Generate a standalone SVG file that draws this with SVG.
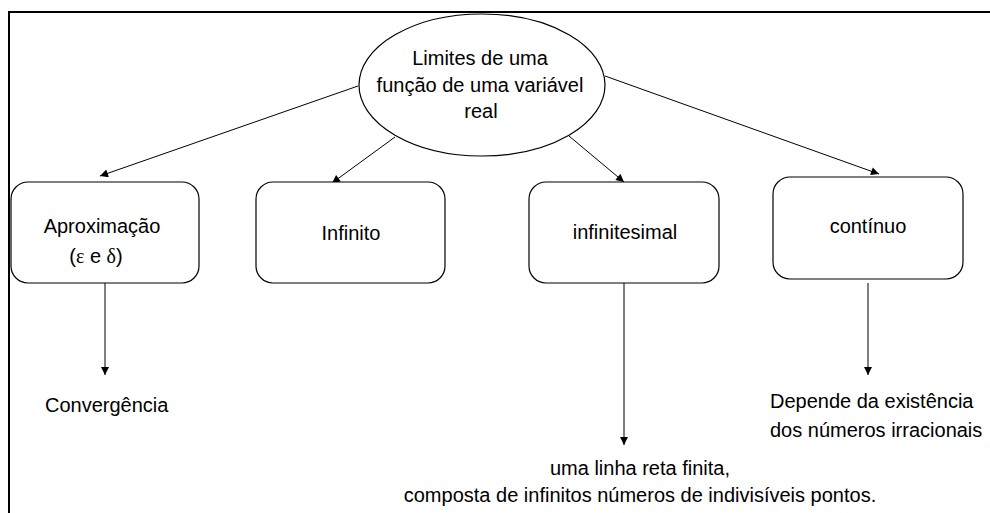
<svg xmlns="http://www.w3.org/2000/svg" width="990" height="513" viewBox="0 0 990 513">
<style>
text{font-family:"Liberation Sans",Arial,sans-serif;font-size:20px;fill:#000}
.node{fill:#fff;stroke:#000;stroke-width:1.2}
.conn{stroke:#000;stroke-width:1;fill:none;marker-end:url(#ah)}
.frame{stroke:#000;stroke-width:2;fill:none}
.sym{font-family:"Liberation Serif","Times New Roman",serif}
</style>
<defs>
<marker id="ah" viewBox="0 0 10 10" refX="10" refY="5" markerWidth="9" markerHeight="8" markerUnits="userSpaceOnUse" orient="auto">
<path d="M0,0 L10,5 L0,10 z" fill="#000"/>
</marker>
</defs>
<rect width="990" height="513" fill="#fff"/>
<path class="frame" d="M9,513 V12 H990"/>
<g id="connectors">
<line class="conn" x1="358" y1="86" x2="100" y2="176"/>
<line class="conn" x1="395" y1="137" x2="332" y2="183"/>
<line class="conn" x1="569" y1="136" x2="624" y2="182"/>
<line class="conn" x1="605" y1="76" x2="879" y2="174"/>
<line class="conn" x1="105" y1="283" x2="105" y2="375"/>
<line class="conn" x1="624" y1="283" x2="624" y2="445"/>
<line class="conn" x1="868" y1="283" x2="868" y2="375"/>
</g>
<g id="root">
<ellipse class="node" cx="482" cy="85" rx="123" ry="71"/>
<text x="480" y="65" text-anchor="middle">Limites de uma</text>
<text x="480" y="92" text-anchor="middle">função de uma variável</text>
<text x="481" y="118" text-anchor="middle">real</text>
</g>
<g id="aproximacao">
<rect class="node" x="11" y="182" width="188" height="101" rx="17"/>
<text x="102" y="233" text-anchor="middle">Aproximação</text>
<text x="96" y="263" text-anchor="middle">(<tspan class="sym">ε</tspan> e <tspan class="sym">δ</tspan>)</text>
</g>
<g id="infinito">
<rect class="node" x="256" y="182" width="189" height="101" rx="17"/>
<text x="351" y="240" text-anchor="middle">Infinito</text>
</g>
<g id="infinitesimal">
<rect class="node" x="529" y="182" width="190" height="101" rx="17"/>
<text x="625" y="239" text-anchor="middle">infinitesimal</text>
</g>
<g id="continuo">
<rect class="node" x="773" y="177" width="190" height="102" rx="17"/>
<text x="868" y="233" text-anchor="middle">contínuo</text>
</g>
<g id="convergencia">
<text x="45" y="412">Convergência</text>
</g>
<g id="depende">
<text x="770" y="408">Depende da existência</text>
<text x="770" y="437">dos números irracionais</text>
</g>
<g id="linha">
<text x="640" y="475" text-anchor="middle">uma linha reta finita,</text>
<text x="640" y="502" text-anchor="middle">composta de infinitos números de indivisíveis pontos.</text>
</g>
</svg>
